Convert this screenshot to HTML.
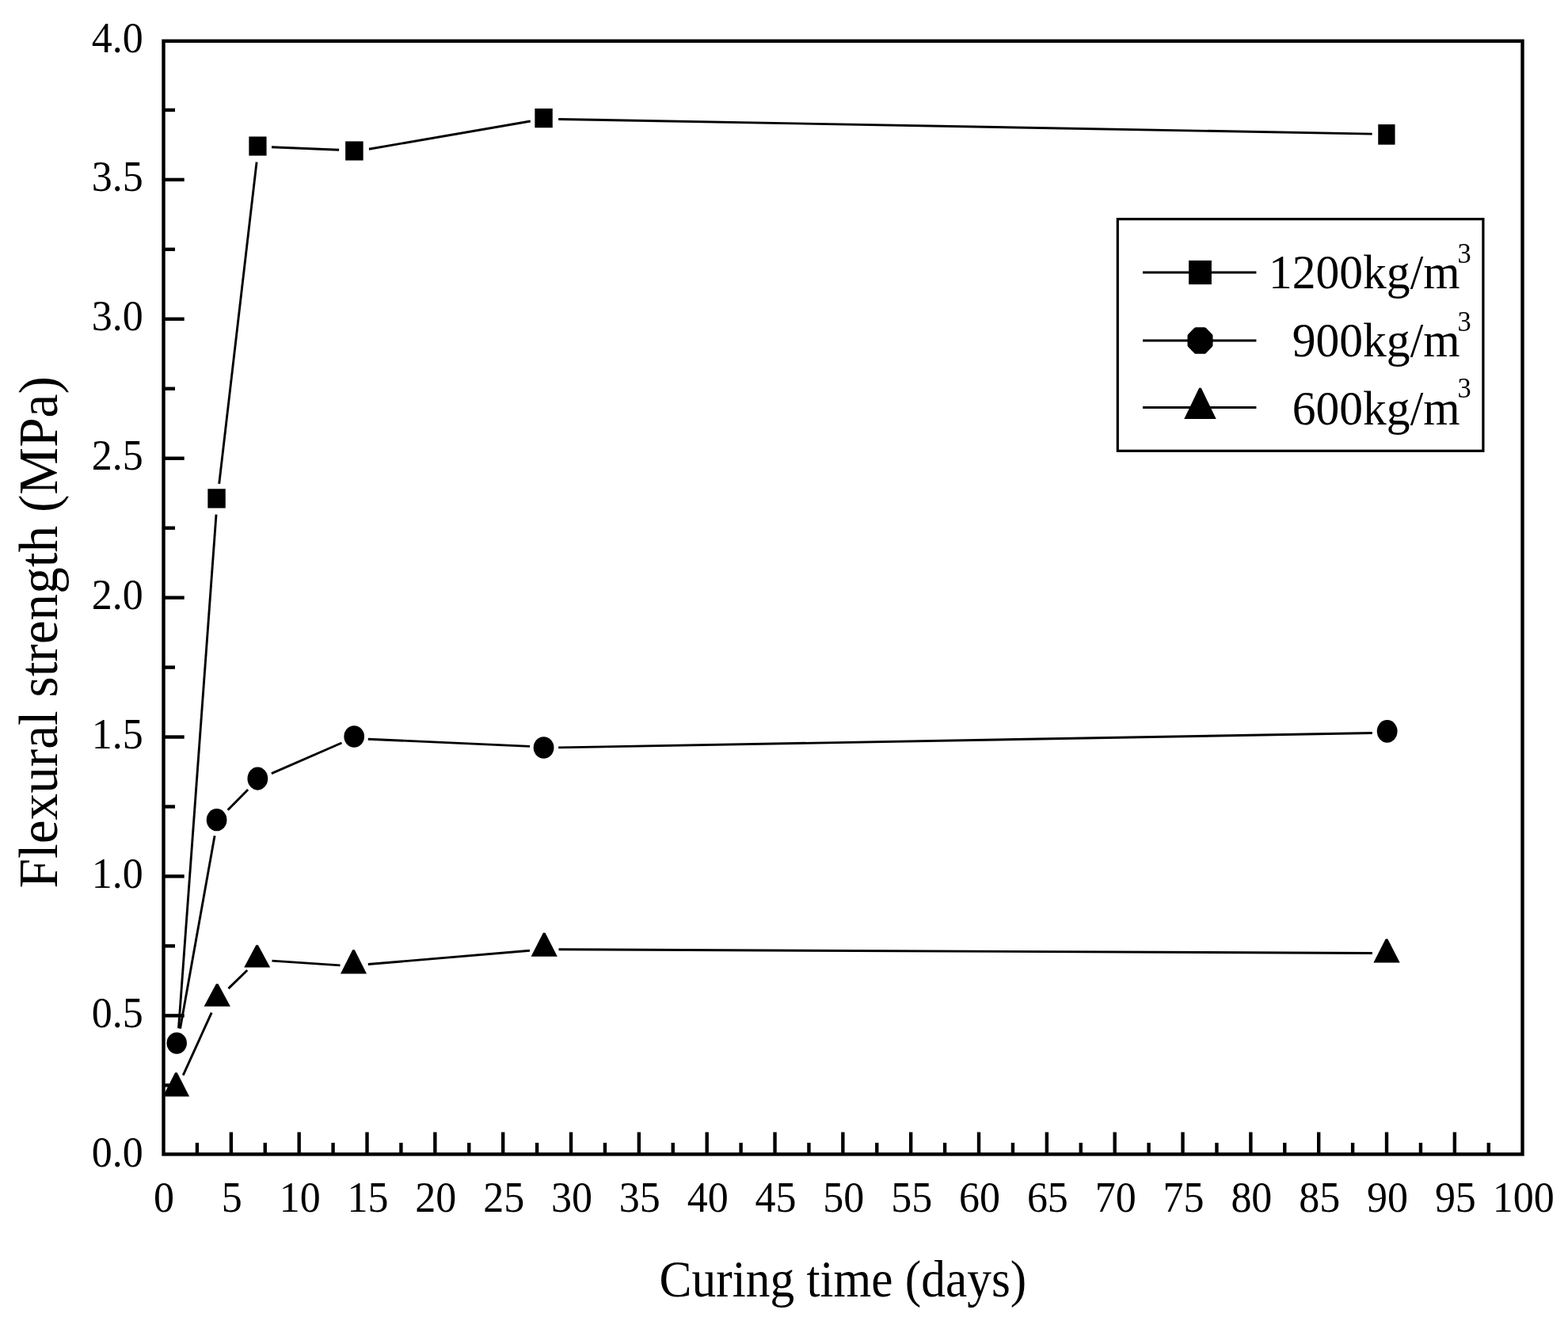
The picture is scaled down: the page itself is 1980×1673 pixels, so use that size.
<!DOCTYPE html>
<html lang="en"><head><meta charset="utf-8"><title>Flexural strength vs curing time</title>
<style>
html,body{margin:0;padding:0;background:#fff;}
body{width:1980px;height:1673px;overflow:hidden;}
svg{display:block;}
text{font-family:'Liberation Serif',serif;fill:#000;}
</style></head><body>
<svg width="1980" height="1673" viewBox="0 0 1980 1673">
<rect width="1980" height="1673" fill="#fff"/>
<g stroke="#000" stroke-width="4.4" fill="none">
<line x1="248.92" y1="1457.40" x2="248.92" y2="1442.90"/>
<line x1="291.84" y1="1457.40" x2="291.84" y2="1429.50"/>
<line x1="334.75" y1="1457.40" x2="334.75" y2="1442.90"/>
<line x1="377.67" y1="1457.40" x2="377.67" y2="1429.50"/>
<line x1="420.59" y1="1457.40" x2="420.59" y2="1442.90"/>
<line x1="463.50" y1="1457.40" x2="463.50" y2="1429.50"/>
<line x1="506.42" y1="1457.40" x2="506.42" y2="1442.90"/>
<line x1="549.34" y1="1457.40" x2="549.34" y2="1429.50"/>
<line x1="592.26" y1="1457.40" x2="592.26" y2="1442.90"/>
<line x1="635.18" y1="1457.40" x2="635.18" y2="1429.50"/>
<line x1="678.09" y1="1457.40" x2="678.09" y2="1442.90"/>
<line x1="721.01" y1="1457.40" x2="721.01" y2="1429.50"/>
<line x1="763.93" y1="1457.40" x2="763.93" y2="1442.90"/>
<line x1="806.85" y1="1457.40" x2="806.85" y2="1429.50"/>
<line x1="849.76" y1="1457.40" x2="849.76" y2="1442.90"/>
<line x1="892.68" y1="1457.40" x2="892.68" y2="1429.50"/>
<line x1="935.60" y1="1457.40" x2="935.60" y2="1442.90"/>
<line x1="978.52" y1="1457.40" x2="978.52" y2="1429.50"/>
<line x1="1021.43" y1="1457.40" x2="1021.43" y2="1442.90"/>
<line x1="1064.35" y1="1457.40" x2="1064.35" y2="1429.50"/>
<line x1="1107.27" y1="1457.40" x2="1107.27" y2="1442.90"/>
<line x1="1150.18" y1="1457.40" x2="1150.18" y2="1429.50"/>
<line x1="1193.10" y1="1457.40" x2="1193.10" y2="1442.90"/>
<line x1="1236.02" y1="1457.40" x2="1236.02" y2="1429.50"/>
<line x1="1278.94" y1="1457.40" x2="1278.94" y2="1442.90"/>
<line x1="1321.86" y1="1457.40" x2="1321.86" y2="1429.50"/>
<line x1="1364.77" y1="1457.40" x2="1364.77" y2="1442.90"/>
<line x1="1407.69" y1="1457.40" x2="1407.69" y2="1429.50"/>
<line x1="1450.61" y1="1457.40" x2="1450.61" y2="1442.90"/>
<line x1="1493.53" y1="1457.40" x2="1493.53" y2="1429.50"/>
<line x1="1536.44" y1="1457.40" x2="1536.44" y2="1442.90"/>
<line x1="1579.36" y1="1457.40" x2="1579.36" y2="1429.50"/>
<line x1="1622.28" y1="1457.40" x2="1622.28" y2="1442.90"/>
<line x1="1665.20" y1="1457.40" x2="1665.20" y2="1429.50"/>
<line x1="1708.11" y1="1457.40" x2="1708.11" y2="1442.90"/>
<line x1="1751.03" y1="1457.40" x2="1751.03" y2="1429.50"/>
<line x1="1793.95" y1="1457.40" x2="1793.95" y2="1442.90"/>
<line x1="1836.87" y1="1457.40" x2="1836.87" y2="1429.50"/>
<line x1="1879.78" y1="1457.40" x2="1879.78" y2="1442.90"/>
<line x1="206.50" y1="1370.34" x2="221.00" y2="1370.34"/>
<line x1="206.50" y1="1282.38" x2="232.70" y2="1282.38"/>
<line x1="206.50" y1="1194.43" x2="221.00" y2="1194.43"/>
<line x1="206.50" y1="1106.47" x2="232.70" y2="1106.47"/>
<line x1="206.50" y1="1018.51" x2="221.00" y2="1018.51"/>
<line x1="206.50" y1="930.55" x2="232.70" y2="930.55"/>
<line x1="206.50" y1="842.60" x2="221.00" y2="842.60"/>
<line x1="206.50" y1="754.64" x2="232.70" y2="754.64"/>
<line x1="206.50" y1="666.68" x2="221.00" y2="666.68"/>
<line x1="206.50" y1="578.73" x2="232.70" y2="578.73"/>
<line x1="206.50" y1="490.77" x2="221.00" y2="490.77"/>
<line x1="206.50" y1="402.81" x2="232.70" y2="402.81"/>
<line x1="206.50" y1="314.85" x2="221.00" y2="314.85"/>
<line x1="206.50" y1="226.89" x2="232.70" y2="226.89"/>
<line x1="206.50" y1="138.94" x2="221.00" y2="138.94"/>
</g>
<rect x="206.5" y="51.8" width="1716.0" height="1405.6000000000001" fill="none" stroke="#000" stroke-width="4.4"/>
<g stroke="#000" stroke-width="2.9" fill="none" transform="translate(0.9,0.8)">
<line x1="224.62" y1="1297.61" x2="272.13" y2="648.84"/>
<line x1="275.81" y1="610.06" x2="323.19" y2="203.84"/>
<line x1="342.10" y1="185.00" x2="427.20" y2="188.40"/>
<line x1="465.08" y1="187.44" x2="668.87" y2="152.21"/>
<line x1="704.30" y1="149.70" x2="1731.80" y2="168.30"/>
<line x1="226.62" y1="1297.91" x2="270.18" y2="1054.34"/>
<line x1="286.74" y1="1021.96" x2="312.21" y2="996.29"/>
<line x1="341.97" y1="975.81" x2="430.58" y2="937.24"/>
<line x1="463.90" y1="932.40" x2="668.20" y2="941.60"/>
<line x1="704.30" y1="943.10" x2="1732.00" y2="924.70"/>
<line x1="230.35" y1="1356.73" x2="266.30" y2="1277.77"/>
<line x1="287.60" y1="1247.31" x2="311.35" y2="1224.19"/>
<line x1="342.57" y1="1212.37" x2="428.63" y2="1218.03"/>
<line x1="463.90" y1="1216.70" x2="668.00" y2="1199.50"/>
<line x1="704.60" y1="1198.00" x2="1732.00" y2="1202.70"/>
</g>
<g fill="#000" stroke="none">
<rect x="262.35" y="617.25" width="22.40" height="24.30"/>
<rect x="314.35" y="172.45" width="22.20" height="24.10"/>
<rect x="436.15" y="178.45" width="22.50" height="24.10"/>
<rect x="675.35" y="137.05" width="22.40" height="24.20"/>
<rect x="1740.25" y="157.05" width="21.30" height="25.60"/>
<ellipse cx="223.20" cy="1317.05" rx="12.75" ry="13.60"/>
<ellipse cx="273.60" cy="1035.20" rx="12.85" ry="14.15"/>
<ellipse cx="325.35" cy="983.05" rx="12.90" ry="14.60"/>
<ellipse cx="447.20" cy="930.00" rx="12.85" ry="13.65"/>
<ellipse cx="686.55" cy="943.95" rx="12.90" ry="13.70"/>
<ellipse cx="1751.65" cy="923.35" rx="12.90" ry="14.40"/>
<polygon points="221.10,1354.30 223.70,1354.30 239.10,1384.55 205.70,1384.55"/>
<polygon points="272.90,1242.30 275.50,1242.30 290.90,1270.65 257.60,1270.65"/>
<polygon points="323.30,1193.20 325.90,1193.20 341.20,1221.55 308.20,1221.55"/>
<polygon points="445.20,1199.20 447.80,1199.20 463.00,1229.55 430.00,1229.55"/>
<polygon points="685.90,1177.70 688.50,1177.70 703.80,1207.75 670.60,1207.75"/>
<polygon points="1749.70,1185.40 1752.30,1185.40 1767.70,1215.55 1734.40,1215.55"/>
</g>
<text transform="translate(207.00,1530.40) scale(0.945,1.0)" font-size="55" text-anchor="middle">0</text>
<text transform="translate(292.84,1530.40) scale(0.945,1.0)" font-size="55" text-anchor="middle">5</text>
<text transform="translate(378.67,1530.40) scale(0.945,1.0)" font-size="55" text-anchor="middle">10</text>
<text transform="translate(464.50,1530.40) scale(0.945,1.0)" font-size="55" text-anchor="middle">15</text>
<text transform="translate(550.34,1530.40) scale(0.945,1.0)" font-size="55" text-anchor="middle">20</text>
<text transform="translate(636.18,1530.40) scale(0.945,1.0)" font-size="55" text-anchor="middle">25</text>
<text transform="translate(722.01,1530.40) scale(0.945,1.0)" font-size="55" text-anchor="middle">30</text>
<text transform="translate(807.85,1530.40) scale(0.945,1.0)" font-size="55" text-anchor="middle">35</text>
<text transform="translate(893.68,1530.40) scale(0.945,1.0)" font-size="55" text-anchor="middle">40</text>
<text transform="translate(979.52,1530.40) scale(0.945,1.0)" font-size="55" text-anchor="middle">45</text>
<text transform="translate(1065.35,1530.40) scale(0.945,1.0)" font-size="55" text-anchor="middle">50</text>
<text transform="translate(1151.18,1530.40) scale(0.945,1.0)" font-size="55" text-anchor="middle">55</text>
<text transform="translate(1237.02,1530.40) scale(0.945,1.0)" font-size="55" text-anchor="middle">60</text>
<text transform="translate(1322.86,1530.40) scale(0.945,1.0)" font-size="55" text-anchor="middle">65</text>
<text transform="translate(1408.69,1530.40) scale(0.945,1.0)" font-size="55" text-anchor="middle">70</text>
<text transform="translate(1494.53,1530.40) scale(0.945,1.0)" font-size="55" text-anchor="middle">75</text>
<text transform="translate(1580.36,1530.40) scale(0.945,1.0)" font-size="55" text-anchor="middle">80</text>
<text transform="translate(1666.20,1530.40) scale(0.945,1.0)" font-size="55" text-anchor="middle">85</text>
<text transform="translate(1752.03,1530.40) scale(0.945,1.0)" font-size="55" text-anchor="middle">90</text>
<text transform="translate(1837.87,1530.40) scale(0.945,1.0)" font-size="55" text-anchor="middle">95</text>
<text transform="translate(1923.70,1530.40) scale(0.945,1.0)" font-size="55" text-anchor="middle">100</text>
<text transform="translate(180.80,1472.50) scale(0.945,1.0)" font-size="55" text-anchor="end">0.0</text>
<text transform="translate(180.80,1296.59) scale(0.945,1.0)" font-size="55" text-anchor="end">0.5</text>
<text transform="translate(180.80,1120.67) scale(0.945,1.0)" font-size="55" text-anchor="end">1.0</text>
<text transform="translate(180.80,944.75) scale(0.945,1.0)" font-size="55" text-anchor="end">1.5</text>
<text transform="translate(180.80,768.84) scale(0.945,1.0)" font-size="55" text-anchor="end">2.0</text>
<text transform="translate(180.80,592.93) scale(0.945,1.0)" font-size="55" text-anchor="end">2.5</text>
<text transform="translate(180.80,417.01) scale(0.945,1.0)" font-size="55" text-anchor="end">3.0</text>
<text transform="translate(180.80,241.09) scale(0.945,1.0)" font-size="55" text-anchor="end">3.5</text>
<text transform="translate(180.80,66.08) scale(0.945,1.0)" font-size="55" text-anchor="end">4.0</text>
<text transform="translate(1064.40,1637.00) scale(0.923,1.0)" font-size="66.5" text-anchor="middle">Curing time (days)</text>
<text transform="translate(71.6,798.3) rotate(-90) scale(0.961,1)" font-size="70" text-anchor="middle">Flexural strength (MPa)</text>
<rect x="1411.3" y="276.6" width="461.6" height="292.7" fill="#fff" stroke="#000" stroke-width="3.2"/>
<g stroke="#000" stroke-width="3">
<line x1="1443" y1="344.0" x2="1586.4" y2="344.0"/>
<line x1="1443" y1="430.0" x2="1586.4" y2="430.0"/>
<line x1="1443" y1="514.5" x2="1586.4" y2="514.5"/>
</g><g fill="#000">
<rect x="1501.1" y="328.9" width="28.8" height="30.2"/>
<polygon stroke="#000" stroke-width="6" stroke-linejoin="round" points="1510.30,416.20 1520.70,416.20 1528.50,424.20 1528.50,435.80 1520.70,443.80 1510.30,443.80 1502.50,435.80 1502.50,424.20"/>
<polygon points="1514.2,489.7 1516.8,489.7 1535.7,529.1 1495.3,529.1"/>
</g>
<text transform="translate(1601.91,363.90) scale(0.985,1)" font-size="60.5" text-anchor="start">1200kg/m<tspan x="242.32" y="-32.00" font-size="35">3</tspan></text>
<text transform="translate(1631.71,449.85) scale(0.985,1)" font-size="60.5" text-anchor="start">900kg/m<tspan x="212.07" y="-32.35" font-size="35">3</tspan></text>
<text transform="translate(1631.71,535.80) scale(0.985,1)" font-size="60.5" text-anchor="start">600kg/m<tspan x="212.07" y="-33.70" font-size="35">3</tspan></text>
</svg></body></html>
